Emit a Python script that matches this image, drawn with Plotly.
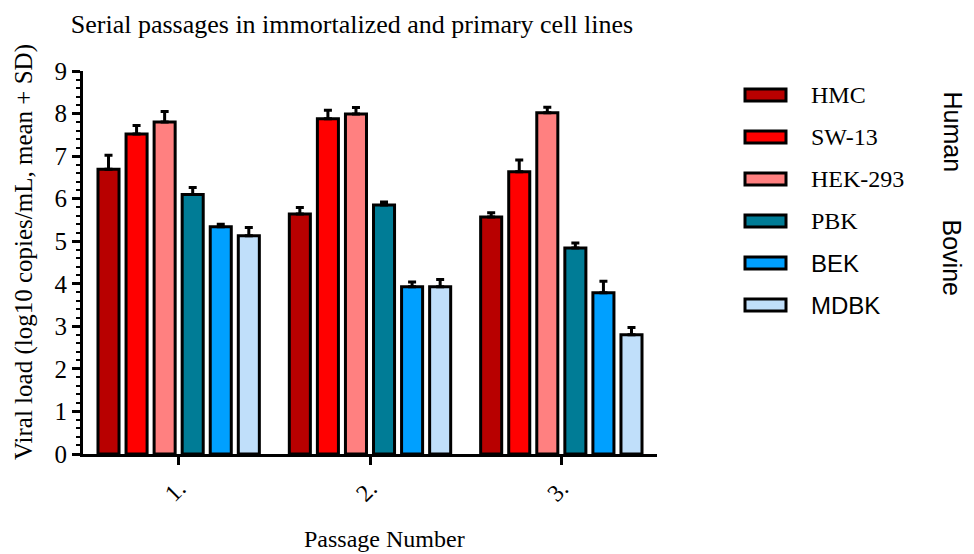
import plotly.graph_objects as go

# ---- data ----
passages = ["1.", "2.", "3."]
series_names = ["HMC", "SW-13", "HEK-293", "PBK", "BEK", "MDBK"]
series_colors = ["#B80000", "#FF0000", "#FF8080", "#007C96", "#00A0FF", "#C0DFFA"]
hmc = [6.69, 5.64, 5.57]
hmc_sd = [0.33, 0.15, 0.10]
sw13 = [7.52, 7.88, 6.63]
sw13_sd = [0.20, 0.20, 0.28]
hek293 = [7.80, 7.99, 8.02]
hek293_sd = [0.25, 0.15, 0.13]
pbk = [6.10, 5.85, 4.84]
pbk_sd = [0.16, 0.07, 0.12]
bek = [5.34, 3.93, 3.79]
bek_sd = [0.06, 0.11, 0.27]
mdbk = [5.13, 3.93, 2.80]
mdbk_sd = [0.19, 0.17, 0.17]
means = [hmc, sw13, hek293, pbk, bek, mdbk]
sds = [hmc_sd, sw13_sd, hek293_sd, pbk_sd, bek_sd, mdbk_sd]
group_labels = ["Human", "Bovine"]

SERIF = "Liberation Serif, Times New Roman, serif"
SANS = "Liberation Sans, Arial, sans-serif"
label_fonts = [SERIF, SERIF, SERIF, SERIF, SANS, SANS]

# page body has an 8px margin; lay out in screen pixels and convert
OFF = 8
W, H = 974 - OFF, 554 - OFF
L_s, R_s, T_s, B_s = 83, 657, 71, 454          # plot area in screen px
L, PW, T, PH = L_s - OFF, R_s - L_s, T_s - OFF, B_s - T_s

def px_x(sx):
    return (sx - L_s) / PW

def px_y(sy):
    return (B_s - sy) / PH

fig = go.Figure()
for name, color, m, sd in zip(series_names, series_colors, means, sds):
    fig.add_trace(go.Bar(
        x=passages, y=m, name=name,
        marker=dict(color=color, line=dict(color="black", width=3)),
        error_y=dict(type="data", array=sd, arrayminus=[0] * len(sd),
                     symmetric=False, color="black", thickness=3, width=4),
        showlegend=False,
    ))

shapes = []
annotations = []
row0, step = 95, 42
for i, (name, color, fnt) in enumerate(zip(series_names, series_colors, label_fonts)):
    cy = row0 + i * step
    shapes.append(dict(type="rect", xref="paper", yref="paper",
                       x0=px_x(745), x1=px_x(786), y0=px_y(cy + 6), y1=px_y(cy - 6),
                       fillcolor=color, line=dict(color="black", width=3)))
    annotations.append(dict(text=name, xref="paper", yref="paper",
                            x=px_x(809), y=px_y(cy), xanchor="left", yanchor="middle",
                            showarrow=False,
                            font=dict(family=fnt, size=24, color="black")))

for lbl, ytop, ybot in zip(group_labels, [77, 200], [186, 315]):
    annotations.append(dict(text=lbl, xref="paper", yref="paper",
                            x=px_x(952), y=px_y((ytop + ybot) / 2),
                            xanchor="center", yanchor="middle", textangle=90,
                            showarrow=False,
                            font=dict(family=SANS, size=25, color="black")))
    for yy in (ytop, ybot):
        shapes.append(dict(type="line", xref="paper", yref="paper",
                           x0=px_x(966), x1=px_x(972), y0=px_y(yy), y1=px_y(yy),
                           line=dict(color="black", width=2)))

annotations.append(dict(text="Viral load (log10 copies/mL, mean + SD)",
                        xref="paper", yref="paper", x=px_x(24), y=px_y(252),
                        xanchor="center", yanchor="middle", textangle=-90,
                        showarrow=False, font=dict(family=SERIF, size=25, color="black")))
annotations.append(dict(text="Passage Number", xref="paper", yref="paper",
                        x=px_x(384), y=px_y(539), xanchor="center", yanchor="middle",
                        showarrow=False, font=dict(family=SERIF, size=24, color="black")))

fig.update_layout(
    width=W, height=H,
    margin=dict(l=L, r=W - L - PW, t=T, b=H - T - PH, autoexpand=False),
    paper_bgcolor="white", plot_bgcolor="white",
    barmode="group", bargap=0.12, bargroupgap=0.25,
    title=dict(text="Serial passages in immortalized and primary cell lines",
               x=(352 - OFF) / W, xref="container", xanchor="center",
               y=1 - (24 - OFF) / H, yref="container", yanchor="middle",
               font=dict(family=SERIF, size=26, color="black")),
    shapes=shapes, annotations=annotations,
    showlegend=False,
)
fig.update_xaxes(
    range=[-0.5, 2.5], showline=True, linecolor="black", linewidth=3,
    ticks="outside", ticklen=8, tickwidth=3, tickcolor="black",
    tickangle=-45, tickfont=dict(family=SERIF, size=24, color="black"),
    showgrid=False, zeroline=False,
)
fig.update_yaxes(
    range=[0, 9], dtick=1, showline=True, linecolor="black", linewidth=3,
    ticks="outside", ticklen=8, tickwidth=3, tickcolor="black",
    tickfont=dict(family=SERIF, size=25, color="black"),
    minor=dict(dtick=0.2, ticks="outside", ticklen=4, tickwidth=2, tickcolor="black"),
    showgrid=False, zeroline=False,
)

fig.write_html("out.html")
